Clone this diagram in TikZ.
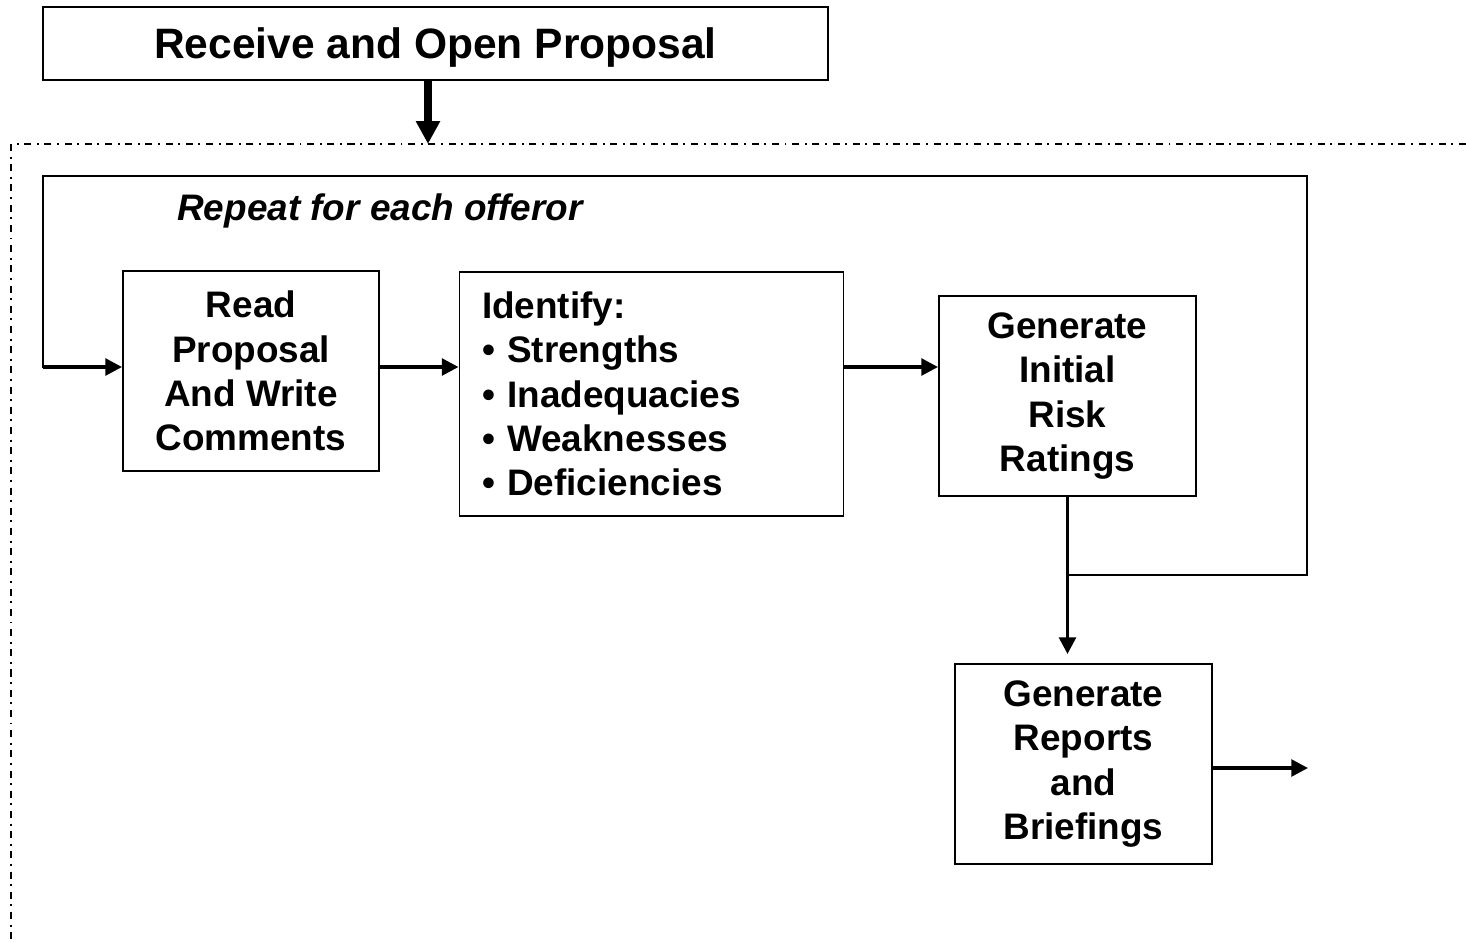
\documentclass[tikz,border=0pt]{standalone}
\usepackage{fontspec}
\setmainfont{Liberation Sans}
\usetikzlibrary{arrows.meta}

\begin{document}
\begin{tikzpicture}[box/.style={rectangle, draw, line width=1.1pt, inner sep=0pt, align=center, font=\bfseries\fontsize{21}{25.2}\selectfont},
    flow/.style={line width=2pt, -{Triangle[length=9.5pt, width=9.5pt]}},
    bigflow/.style={line width=4.2pt, -{Triangle[length=13pt, width=13pt]}},
    loopline/.style={line width=1.3pt, line cap=rect},
    frame/.style={line width=1pt, dash pattern=on 4pt off 3.2pt on 1.1pt off 3.2pt}]
    \useasboundingbox (0, 0) rectangle (29.32, -18.84);

    \node at (8.71, -0.87) [box, minimum width=15.70cm, minimum height=1.46cm, text depth=0pt, font=\bfseries\fontsize{24.2}{28}\selectfont] (receive) {Receive and Open Proposal};
    \node at (5.02, -7.42) [box, minimum width=5.12cm, minimum height=4.00cm] (read) {Read\\Proposal\\And Write\\Comments};
    \node at (13.03, -7.88) [box, align=left, text width=6.78cm, inner xsep=0.45cm, minimum height=4.88cm] (ident) {Identify:\\\textbullet{} Strengths\\\textbullet{} Inadequacies\\\textbullet{} Weaknesses\\\textbullet{} Deficiencies};
    \node at (21.35, -7.92) [box, minimum width=5.14cm, minimum height=4.00cm] (rating) {Generate\\Initial\\Risk\\Ratings};
    \node at (21.67, -15.28) [box, minimum width=5.14cm, minimum height=4.00cm] (reports) {Generate\\Reports\\and\\Briefings};
    \node at (3.54, -4.40) [anchor=base west, inner sep=0pt, font=\bfseries\itshape\fontsize{21}{25.2}\selectfont] (repeat) {Repeat for each offeror};

    \coordinate (entry) at (8.56, -2.88);
    \coordinate (row) at (0, -7.34);
    \coordinate (loopnw) at (0.86, -3.52);
    \coordinate (loopse) at (26.14, -11.50);
    \coordinate (out) at (26.16, -15.36);

    \draw[frame] (29.32, -2.88) -- (0.22, -2.88) -- (0.22, -18.84);
    \draw[bigflow] (receive.south -| entry) -- (entry);

    \draw[loopline] (rating.south |- loopse) -- (loopse) -- (loopse |- loopnw) -- (loopnw) -- (loopnw |- row);
    \draw[flow] (loopnw |- row) -- (read.west |- row);
    \draw[flow] (read.east |- row) -- (ident.west |- row);
    \draw[flow] (ident.east |- row) -- (rating.west |- row);
    \draw[flow, shorten >=0.18cm] (rating.south) -- (rating.south |- reports.north);
    \draw[flow] (reports.east |- out) -- (out);

\end{tikzpicture}
\end{document}
